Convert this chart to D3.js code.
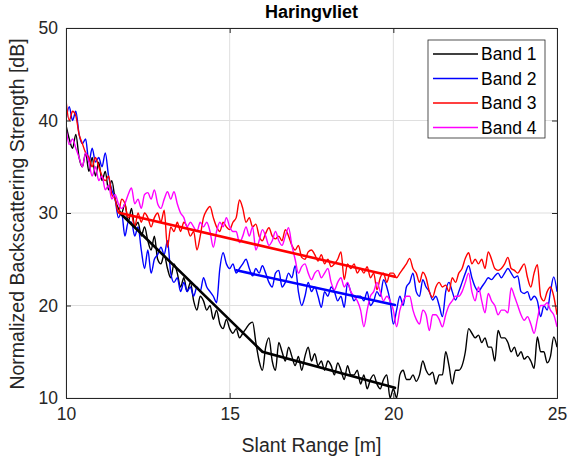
<!DOCTYPE html>
<html>
<head>
<meta charset="utf-8">
<script src="https://cdn.jsdelivr.net/npm/d3@7"></script>
<style>
  body { margin: 0; background: #fff; }
  svg { font-family: "Liberation Sans", Arial, sans-serif; }
</style>
</head>
<body>
<svg id="chart" width="571" height="467"></svg>
<script>
// slant range samples, 10 m to 25 m every 0.1 m
const slantRange = d3.range(151).map(i => +(10 + i * 0.1).toFixed(1))

const band1 = [39.5, 38, 37, 38.5, 36, 35, 36.5, 34.5, 36, 34,
    35.5, 33.5, 34.5, 32.5, 33.5, 31.5, 30.5, 30, 31, 29,
    30.5, 28.5, 29, 27.5, 28.5, 27, 26, 27.5, 25, 24.5,
    25.5, 24, 23, 24.5, 23.5, 22, 23, 21.5, 22.5, 20.5,
    19.5, 21, 20.5, 19.5, 20, 18.5, 19.5, 18, 17.5, 18.5,
    17.5, 17, 17.5, 16.5, 17, 17.5, 18, 18.2, 16, 14,
    13, 15.5, 16.5, 14, 13, 16, 15, 14, 15.5, 14.5,
    13.5, 14.5, 13, 14.5, 15.5, 14, 14.8, 13.5, 14, 13,
    14, 13.5, 12.5, 13.8, 13, 12, 13.5, 12.5, 12.5, 13,
    11.5, 12.5, 11, 12, 12.5, 11.5, 11, 12, 12.5, 10,
    11, 10, 12.5, 13, 12, 12, 12.5, 11.8, 12.5, 14,
    13, 12.5, 12.8, 11.5, 12.5, 12.5, 15, 13.5, 11.5, 13,
    13, 13.5, 15, 17.5, 17, 16.5, 16.8, 16, 16.5, 15.5,
    15.5, 14, 17.3, 16.5, 16.5, 16, 15, 15.5, 14.5, 15,
    14.2, 14.5, 14, 13.2, 16.6, 15, 15, 13.8, 14.5, 16.6,
    15.5]

const band2 = [40, 41.5, 40, 41, 38.5, 37.5, 38, 35.5, 37, 35.5,
    36, 35, 36.5, 34, 32.5, 31.5, 29.5, 30, 27.5, 29,
    29, 27.5, 28.5, 26, 24, 26, 23.5, 25, 25.5, 26.3,
    25.5, 27, 23.5, 22.5, 23, 21.5, 22.5, 21.5, 22, 21,
    22, 21.5, 23, 22, 21.5, 21, 20.3, 24, 25.7, 24.5,
    24, 24.5, 23.5, 24, 24.5, 25, 24, 23.2, 24, 23.5,
    24.3, 23.5, 22.5, 22, 23.5, 23.8, 22, 22.5, 23.5, 23,
    24.3, 21.5, 20, 21, 22.5, 21.5, 22, 21, 19.8, 21.5,
    21, 22, 21.5, 20.5, 21, 19.8, 22.4, 21.5, 20.5, 21,
    21, 20.5, 21.5, 20, 20.5, 21.5, 21, 22.8, 22, 20.5,
    18, 19.5, 21, 20, 22, 22.5, 23.5, 21.5, 21, 22.8,
    22, 21.5, 20.6, 21, 20, 18.8, 21.5, 22.5, 21.5, 20.6,
    21.5, 22.5, 23.5, 24.3, 23, 22, 21.5, 22, 22.5, 23,
    22.8, 23.2, 23.5, 23, 23.5, 24, 23.5, 23, 23.2, 21.5,
    21.3, 21.5, 20.6, 21, 20.5, 18.8, 20, 19.5, 21.5, 23.1,
    21.5]

const band3 = [42.2, 40, 41, 40.5, 38.5, 37.5, 36.5, 36, 35, 36,
    35, 34, 33.5, 34, 32, 31.5, 30, 31.5, 31, 29.5,
    29.8, 28.5, 30, 29, 30, 29.5, 28.5, 29.5, 30, 29,
    30.3, 26.3, 28.5, 28, 29, 28, 29, 28.5, 27.5, 28,
    26, 27.5, 29.5, 30.3, 30.7, 29.5, 28.5, 28, 29, 28.5,
    28.2, 29, 29.5, 31.4, 30.5, 29, 29.5, 28.5, 28.8, 27.5,
    27, 27.8, 28.4, 27.5, 27.2, 27.5, 27, 28.2, 27.5, 26.5,
    26, 26.5, 25.2, 25, 25.8, 26, 25.5, 24.8, 25.5, 24.5,
    25, 24.2, 24.5, 25, 25.8, 22.8, 24.5, 24, 24.5, 23.5,
    24, 23.5, 24.2, 23, 23.5, 21.7, 23, 23.5, 22.5, 23.5,
    23.5, 23, 23.5, 24, 24.5, 25.1, 24, 23.5, 22.5, 23.6,
    23, 21.5, 20.9, 22, 22.5, 22, 22.2, 21.5, 23, 22.5,
    23.5, 24, 25.1, 25.7, 24.5, 25, 24.5, 25, 24, 25.8,
    25, 24, 23.8, 24, 24.5, 25.2, 24, 23.8, 23.5, 24,
    24.5, 23, 22, 23.5, 24.4, 21, 20.5, 21.5, 22, 21,
    19]

const band4 = [39.2, 37.4, 38, 37, 36, 35, 36.5, 35.5, 34, 35,
    33.5, 34, 32.5, 33, 31.5, 32, 31, 30.5, 31, 32,
    32.7, 31, 31.5, 30.5, 32, 32.2, 31.5, 32.5, 31, 30.5,
    31.5, 32.3, 31.5, 32.3, 31, 30, 29.5, 28.5, 29, 28.5,
    28, 29, 28.5, 29, 28, 26.3, 28, 29, 28.5, 29.5,
    28.5, 28, 28, 26.8, 27.5, 28.5, 27.5, 28.5, 26, 27,
    28.2, 27.5, 26.5, 27, 28, 27, 26.5, 27.5, 28.4, 26.5,
    25, 23.5, 24.2, 24.5, 23.5, 22.8, 23.5, 23.8, 23, 23.5,
    24, 22.5, 21.7, 22.5, 23, 22, 22.5, 21.5, 21, 20.5,
    19.5, 17.7, 19.5, 21, 21.5, 22.5, 21.5, 20.5, 21, 20.5,
    19.5, 17.7, 19.5, 20.5, 21, 21, 19.5, 18.5, 18, 19.5,
    19, 17.3, 19, 19, 18.5, 17.7, 19, 20, 20.5, 21,
    21, 21.5, 22.5, 23.5, 21.5, 20.5, 22, 20.5, 19.2, 21.3,
    20.5, 20, 19, 19.5, 19.5, 19.2, 21.9, 21, 20, 19,
    18.4, 18.8, 18, 17, 18.5, 20, 20, 20.3, 19.5, 19,
    17.7]

// fitted trend segments
const fit1X = [11.65, 16.0, 20.05]
const fit1Y = [30, 15, 11.1]
const fit2X = [15.2, 20.05]
const fit2Y = [23.8, 20.05]
const fit3X = [11.65, 20.05]
const fit3Y = [30, 23.1]

const bandNames = ['Band 1', 'Band 2', 'Band 3', 'Band 4']
const bandColors = ['#000000', '#0000ff', '#ff0000', '#ff00ff']
const xTicks = [10, 15, 20, 25]
const yTicks = [10, 20, 30, 40, 50]

const margin = { left: 66, right: 14, top: 28, bottom: 69 }
const width = 571 - margin.left - margin.right
const height = 467 - margin.top - margin.bottom
const axisColor = '#262626'

const svg = d3.select('#chart')
const g = svg.append('g').attr('transform', `translate(${margin.left},${margin.top})`)

const x = d3.scaleLinear().domain([10, 25]).range([0, width])
const y = d3.scaleLinear().domain([10, 50]).range([height, 0])

svg.append('defs').append('clipPath').attr('id', 'plotClip')
    .append('rect').attr('width', width).attr('height', height)

// grid
g.append('g').selectAll('line').data(xTicks).join('line')
    .attr('x1', d => x(d)).attr('x2', d => x(d))
    .attr('y1', 0).attr('y2', height)
    .attr('stroke', '#dfdfdf').attr('stroke-width', 1)
g.append('g').selectAll('line').data(yTicks).join('line')
    .attr('x1', 0).attr('x2', width)
    .attr('y1', d => y(d)).attr('y2', d => y(d))
    .attr('stroke', '#dfdfdf').attr('stroke-width', 1)

const plot = g.append('g').attr('clip-path', 'url(#plotClip)')
const line = d3.line().x(d => x(d[0])).y(d => y(d[1]))
const smoothLine = d3.line().x(d => x(d[0])).y(d => y(d[1])).curve(d3.curveMonotoneX)

const bands = [band1, band2, band3, band4]
bands.forEach((vals, i) => {
    plot.append('path')
        .datum(vals.map((v, j) => [slantRange[j], v]))
        .attr('d', smoothLine)
        .attr('fill', 'none')
        .attr('stroke', bandColors[i])
        .attr('stroke-width', 1.4)
        .attr('stroke-linejoin', 'round')
})

const fits = [[fit1X, fit1Y, bandColors[0]], [fit2X, fit2Y, bandColors[1]], [fit3X, fit3Y, bandColors[2]]]
fits.forEach(([fx, fy, c]) => {
    plot.append('path')
        .datum(fx.map((v, j) => [v, fy[j]]))
        .attr('d', line)
        .attr('fill', 'none')
        .attr('stroke', c)
        .attr('stroke-width', 2.6)
        .attr('stroke-linecap', 'round')
})

// axes, MATLAB style box with inward ticks
const xAxis = d3.axisBottom(x).tickValues(xTicks).tickSize(-5).tickPadding(10)
const yAxis = d3.axisLeft(y).tickValues(yTicks).tickSize(-5).tickPadding(8)
const xTop = d3.axisTop(x).tickValues(xTicks).tickSize(-5).tickFormat('')
const yRight = d3.axisRight(y).tickValues(yTicks).tickSize(-5).tickFormat('')

function styleAxis(sel) {
    sel.select('.domain').attr('stroke', axisColor)
    sel.selectAll('.tick line').attr('stroke', axisColor)
    sel.selectAll('.tick text').attr('fill', axisColor).attr('font-size', 17.5)
        .attr('font-family', '"Liberation Sans", Arial, sans-serif')
}
g.append('g').attr('transform', `translate(0,${height})`).call(xAxis).call(styleAxis)
g.append('g').call(yAxis).call(styleAxis)
g.append('g').call(xTop).call(styleAxis)
g.append('g').attr('transform', `translate(${width},0)`).call(yRight).call(styleAxis)

// labels
svg.append('text').attr('x', margin.left + width / 2).attr('y', 18)
    .attr('text-anchor', 'middle').attr('font-size', 18).attr('font-weight', 'bold')
    .attr('fill', '#000').text('Haringvliet')
svg.append('text').attr('x', margin.left + width / 2).attr('y', 452)
    .attr('text-anchor', 'middle').attr('font-size', 19.5)
    .attr('fill', axisColor).text('Slant Range [m]')
svg.append('text')
    .attr('transform', `translate(24,${margin.top + height / 2 + 1}) rotate(-90)`)
    .attr('text-anchor', 'middle').attr('font-size', 19.5)
    .attr('fill', axisColor).text('Normalized Backscattering Strength [dB]')

// legend
const legend = svg.append('g').attr('transform', 'translate(428,40)')
legend.append('rect').attr('width', 117).attr('height', 98)
    .attr('fill', '#fff').attr('stroke', axisColor).attr('stroke-width', 0.8)
bandNames.forEach((name, i) => {
    const ly = 14 + i * 24.5
    legend.append('line').attr('x1', 5).attr('x2', 50).attr('y1', ly).attr('y2', ly)
        .attr('stroke', bandColors[i]).attr('stroke-width', 1.3)
    legend.append('text').attr('x', 53).attr('y', ly + 6)
        .attr('font-size', 17.5).attr('fill', '#000').text(name)
})
</script>
</body>
</html>
